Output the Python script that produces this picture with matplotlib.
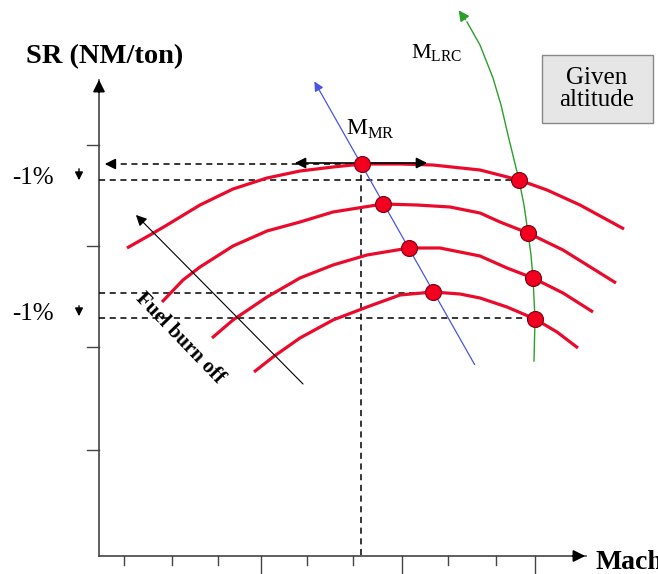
import matplotlib
matplotlib.use('Agg')
import matplotlib.pyplot as plt
from matplotlib.patches import Rectangle

plt.rcParams['font.family'] = ['Liberation Serif', 'DejaVu Serif']
plt.rcParams['mathtext.fontset'] = 'custom'
plt.rcParams['mathtext.rm'] = 'Liberation Serif'

# SR curves (one per weight) in pixel units (y down)
curve_x = [
    [127, 150, 167, 200, 233, 267, 300, 333, 362, 400, 433, 480, 519, 547, 580, 624],
    [162, 183, 200, 233, 267, 300, 333, 383, 417, 450, 480, 500, 528, 563, 616],
    [212, 233, 267, 300, 333, 367, 409, 440, 480, 507, 533, 563, 593],
    [254, 273, 300, 333, 367, 400, 433, 460, 480, 507, 535, 557, 578],
]
curve_y = [
    [248, 235, 225, 205, 189, 178, 171, 167, 164, 164, 165, 170, 180, 190, 205, 229],
    [302, 280, 267, 246, 231, 222, 212, 204, 205, 207, 213, 222, 233, 250, 283],
    [338, 320, 297, 278, 265, 255, 248, 248, 256, 268, 278, 293, 312],
    [372, 357, 338, 320, 307, 295, 292, 294, 298, 307, 319, 332, 348],
]

# points on the MMR and MLRC lines
mmr_x = [362, 383, 409, 433]
mmr_y = [164, 204, 248, 292]
lrc_x = [519, 528, 533, 535]
lrc_y = [180, 233, 278, 319]

# MLRC curve (green) and MMR line (blue)
green_x = [534, 535, 533, 531, 528, 524, 519, 508, 501, 493, 480, 467, 457]
green_y = [361, 319, 278, 255, 233, 205, 180, 135, 105, 78, 45, 22, 8]
blue_x = [476, 313]
blue_y = [367, 79]

# axis ticks
ytick_pos = [145, 246, 347, 450]
xtick_short = [124, 172, 218, 307, 353, 448, 496]
xtick_long = [261, 402, 535]

red = '#ea0b2c'

fig = plt.figure(figsize=(6.58, 5.74), dpi=100)
ax = fig.add_axes([0, 0, 1, 1])
ax.set_xlim(0, 658)
ax.set_ylim(574, 0)
ax.axis('off')

# axes
ax.plot([99, 586], [556, 556], color='#444444', lw=1.2)
ax.plot([99, 99], [556, 80], color='#444444', lw=1.2)
ax.annotate('', xy=(588, 556), xytext=(570, 556),
            arrowprops=dict(arrowstyle='-|>', color='black', lw=1.2, mutation_scale=18))
ax.annotate('', xy=(99, 77), xytext=(99, 95),
            arrowprops=dict(arrowstyle='-|>', color='black', lw=1.2, mutation_scale=18))
for yt in ytick_pos:
    ax.plot([87, 99], [yt, yt], color='#444444', lw=1.0)
for xt in xtick_short:
    ax.plot([xt, xt], [556, 565], color='#444444', lw=1.0)
for xt in xtick_long:
    ax.plot([xt, xt], [556, 573], color='#444444', lw=1.0)

# dashed reference lines
dash = dict(color='black', lw=1.1, ls=(0, (4, 3)))
ax.plot([99, 519], [180, 180], **dash)
ax.plot([99, 433], [293, 293], **dash)
ax.plot([99, 535], [318, 318], **dash)
ax.plot([361, 361], [164, 556], **dash)
ax.plot([110, 361], [164, 164], **dash)
ax.annotate('', xy=(102, 164), xytext=(118, 164),
            arrowprops=dict(arrowstyle='-|>', color='black', lw=1.1, mutation_scale=16))

# blue MMR line and green MLRC curve
ax.annotate('', xy=(blue_x[1], blue_y[1]), xytext=(blue_x[0], blue_y[0]),
            arrowprops=dict(arrowstyle='-|>', color='#4a55e0', lw=0.9, mutation_scale=14))
ax.plot(green_x[:-1], green_y[:-1], color='#2aa02a', lw=1.0)
ax.annotate('', xy=(green_x[-1], green_y[-1]), xytext=(green_x[-2], green_y[-2]),
            arrowprops=dict(arrowstyle='-|>', color='#2aa02a', lw=1.0, mutation_scale=16))

# SR curves
for cx, cy in zip(curve_x, curve_y):
    ax.plot(cx, cy, color=red, lw=2.3, solid_capstyle='butt', solid_joinstyle='round')

# double arrow along the top curve
ax.annotate('', xy=(292, 163), xytext=(362, 163),
            arrowprops=dict(arrowstyle='-|>', color='black', lw=1.2, mutation_scale=16))
ax.annotate('', xy=(430, 163), xytext=(362, 163),
            arrowprops=dict(arrowstyle='-|>', color='black', lw=1.2, mutation_scale=16))

# dots
ax.plot(mmr_x, mmr_y, 'o', ms=11.5, mfc='#f2001f', mec='#7a0010', mew=0.8, zorder=5)
ax.plot(lrc_x, lrc_y, 'o', ms=11.5, mfc='#f2001f', mec='#7a0010', mew=0.8, zorder=5)

# fuel burn off arrow
ax.annotate('', xy=(134, 213), xytext=(305, 386),
            arrowprops=dict(arrowstyle='-|>', color='black', lw=0.8, mutation_scale=16))
ax.text(180, 338, 'Fuel burn off', fontsize=15, fontweight='bold', rotation=-46,
        ha='center', va='center')

# small down arrows next to -1%
for y0, y1 in [(166, 183), (303, 319)]:
    ax.annotate('', xy=(79, y1), xytext=(79, y0),
                arrowprops=dict(arrowstyle='-|>', color='black', lw=1.0, mutation_scale=12))

# labels
ax.text(26, 63, 'SR (NM/ton)', fontsize=20.5, fontweight='bold', ha='left', va='baseline')
ax.text(595, 569, 'Mach', fontsize=20, fontweight='bold', ha='left', va='baseline')
ax.text(12, 184, '-1%', fontsize=18, ha='left', va='baseline')
ax.text(12, 320, '-1%', fontsize=18, ha='left', va='baseline')
ax.text(346, 135, r'M$_{\mathrm{MR}}$', fontsize=17, ha='left', va='baseline')
ax.text(411, 58, r'M$_{\mathrm{LRC}}$', fontsize=16, ha='left', va='baseline')
ax.add_patch(Rectangle((542, 55), 111, 68, fc='#e6e6e6', ec='#888888', lw=1.0))
ax.text(597, 89, 'Given\naltitude', fontsize=18, ha='center', va='center', linespacing=1.0)

fig.savefig('out.png', dpi=100)
